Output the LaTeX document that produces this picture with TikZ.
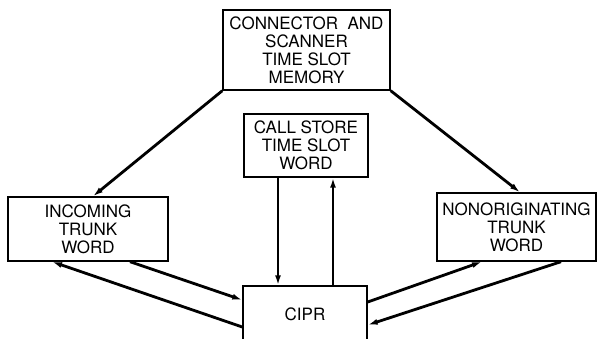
\documentclass[tikz,border=0pt]{standalone}
\usepackage{fontspec}
\setmainfont{TeX Gyre Heros}
\usetikzlibrary{arrows.meta}

\begin{document}
\begin{tikzpicture}[x=1pt, y=-1pt, line width=1.4pt,
    box/.style={draw, line width=1.4pt, align=center, inner sep=0pt,
                font=\fontsize{17}{18}\selectfont},
    flow/.style={-{Latex[length=10pt,width=6pt]}, line width=2.8pt}]
                \useasboundingbox (0,0) rectangle (597,338);
                \node[box, minimum width=167pt, minimum height=80pt] (memory) at (306.5,50)
                    {CONNECTOR\ \ AND\\SCANNER\\TIME\ SLOT\\MEMORY};
                \node[box, minimum width=124pt, minimum height=63pt] (callstore) at (306,145.5)
                    {CALL\ STORE\\TIME\ SLOT\\WORD};
                \node[box, minimum width=160pt, minimum height=64pt] (incoming) at (88,229)
                    {INCOMING\\TRUNK\\WORD};
                \node[box, minimum width=159pt, minimum height=68pt] (nonorig) at (516.5,227)
                    {NONORIGINATING\\TRUNK\\WORD};
                \node[box, minimum width=124pt, minimum height=56pt] (cipr) at (305,314) {CIPR};
                \path[flow]
                    (memory.south west) edge ([xshift=5pt]incoming.north)
                    (memory.south east) edge ([xshift=3.5pt]nonorig.north)
                    ([xshift=-28pt]callstore.south) edge ([xshift=-27pt]cipr.north)
                    ([xshift=28pt]cipr.north) edge ([xshift=27pt]callstore.south);
                \path[flow]
                    ([xshift=42pt]incoming.south) edge ([yshift=14pt]cipr.west)
                    ([yshift=-13pt]cipr.west) edge ([xshift=-36pt]incoming.south)
                    ([yshift=12pt]cipr.east) edge ([xshift=-34.5pt]nonorig.south)
                    ([xshift=44.5pt]nonorig.south) edge ([yshift=-11pt]cipr.east);
            \end{tikzpicture}
\end{document}
